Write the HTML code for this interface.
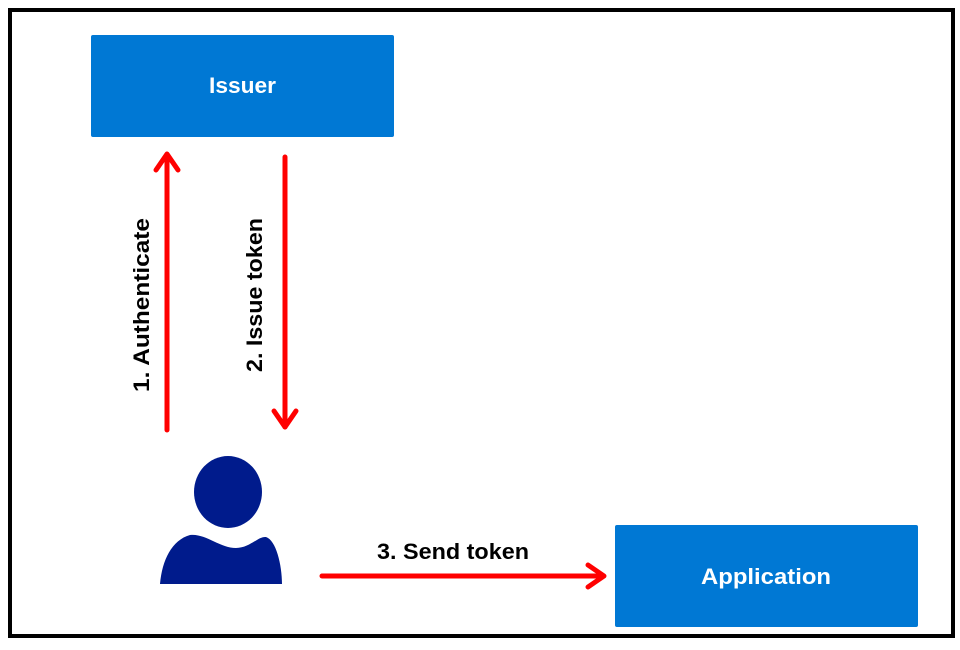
<!DOCTYPE html>
<html><head><style>
body{margin:0;background:#fff;width:960px;height:645px;overflow:hidden}
</style></head><body>
<svg width="960" height="645" xmlns="http://www.w3.org/2000/svg" font-family="Liberation Sans, sans-serif" font-weight="bold">
<rect x="10" y="10" width="943" height="626" fill="#fff" stroke="#000" stroke-width="4"/>
<rect x="91" y="35" width="303" height="102" rx="2" fill="#0078d4"/>
<text x="209" y="93" fill="#fff" font-size="22" textLength="67" lengthAdjust="spacingAndGlyphs">Issuer</text>
<rect x="615" y="525" width="303" height="102" rx="2" fill="#0078d4"/>
<text x="701" y="584" fill="#fff" font-size="22" textLength="130" lengthAdjust="spacingAndGlyphs">Application</text>
<g stroke="#f00" stroke-width="5" fill="none" stroke-linecap="round" stroke-linejoin="round">
<line x1="167" y1="430" x2="167" y2="155"/>
<polyline points="156,170 167,154 178,170"/>
<line x1="285" y1="157" x2="285" y2="427"/>
<polyline points="274,411 285,427 296,411"/>
<line x1="322" y1="576" x2="603" y2="576"/>
<polyline points="588,565 604,576 588,587"/>
</g>
<text transform="translate(149,392) rotate(-90)" font-size="22" textLength="174" lengthAdjust="spacingAndGlyphs">1. Authenticate</text>
<text transform="translate(262,372) rotate(-90)" font-size="22" textLength="154" lengthAdjust="spacingAndGlyphs">2. Issue token</text>
<text x="377" y="559" font-size="22" textLength="152" lengthAdjust="spacingAndGlyphs">3. Send token</text>
<g fill="#001b8c">
<ellipse cx="228" cy="492" rx="34" ry="36"/>
<path d="M160,584 C162,560 172,540 190,535 C205,533 220,548 236,548 C250,548 258,536 266,537 C276,540 282,565 282,584 Z"/>
</g>
</svg>
</body></html>
